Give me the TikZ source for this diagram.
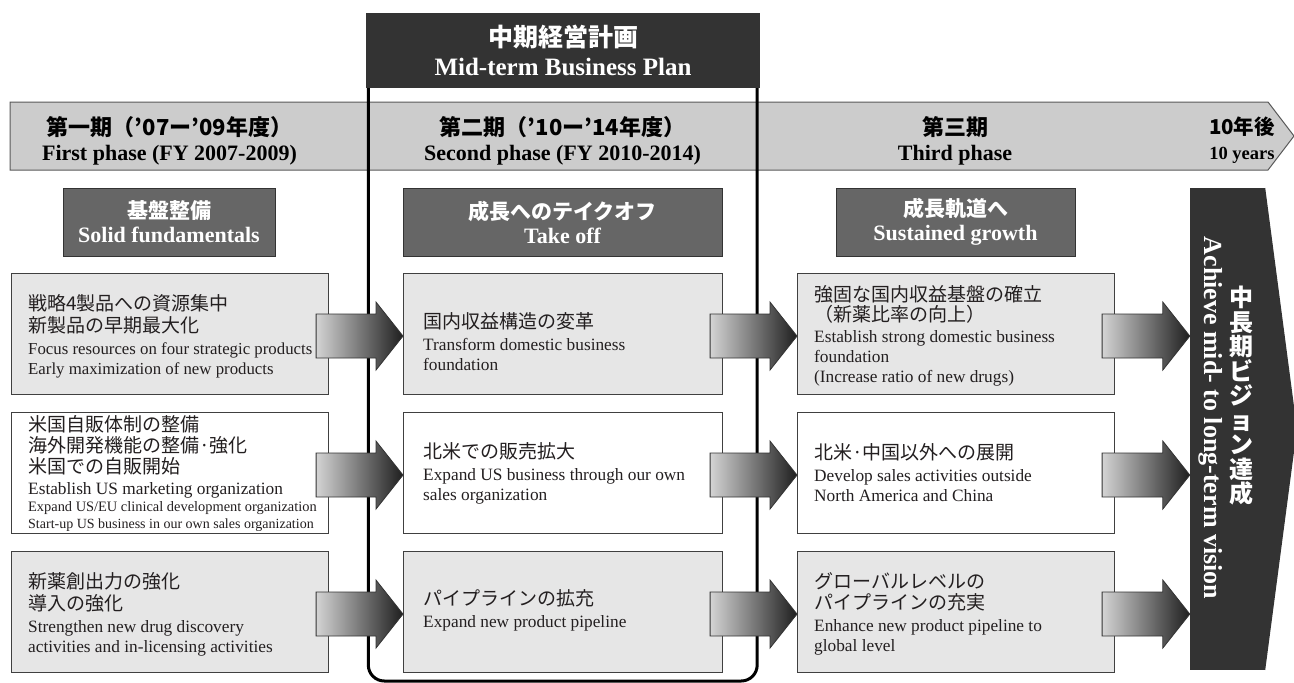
\documentclass[tikz,border=0pt]{standalone}
\usepackage{fontspec}
\setmainfont{Liberation Serif}
\newfontfamily\jp{Noto Sans CJK JP}
\usetikzlibrary{calc}
\definecolor{bannerfill}{HTML}{CCCCCC}
\definecolor{lightfill}{HTML}{E6E6E6}
\definecolor{darkfill}{HTML}{666666}
\definecolor{headfill}{HTML}{333333}
\definecolor{edge}{HTML}{404040}
\definecolor{txt}{HTML}{231F20}
\newcommand\J[1]{{\jp\fontsize{19}{22}\selectfont #1}}
\newcommand\blockarrow[2]{%
  \shade[blockarr] let \p1=(#1.east), \p2=(#2.west) in
    (\x1-13pt,\y1-24pt) -- (\x2-27pt,\y1-24pt) -- (\x2-27pt,\y1-36pt) -- (\x2,\y1-2pt)
    -- (\x2-27pt,\y1+32pt) -- (\x2-27pt,\y1+20pt) -- (\x1-13pt,\y1+20pt) -- cycle;}
\begin{document}
\begin{tikzpicture}[x=1pt,y=-1pt,
  rowbox/.style={draw=edge, line width=1.1pt, minimum height=121pt, minimum width=#1,
    inner sep=0pt, anchor=north west},
  rowtext/.style={anchor=west, align=left, inner sep=0pt, text=txt,
    font=\fontsize{17.3}{20}\selectfont},
  darkbox/.style={fill=darkfill, draw=headfill, line width=1pt, text=white, align=center,
    minimum height=68pt, inner sep=0pt, font=\bfseries\fontsize{22}{24}\selectfont},
  phase/.style={align=center, text=black, font=\bfseries\fontsize{22}{25}\selectfont},
  blockarr/.style={left color=black!17, right color=black!88, draw=black!80, line width=0.8pt},
  frameline/.style={line width=3pt, rounded corners=16pt}]
\useasboundingbox (0,0) rectangle (1294,683);

% phase banner
\path[fill=bannerfill, draw=black!65, line width=1pt]
  (10,102) -- (1268,102) -- (1294,136) -- (1268,170) -- (10,170) -- cycle;

% mid-term plan header and frame
\node[fill=headfill, minimum width=394pt, minimum height=75pt, inner sep=0pt, text=white,
  align=center, font=\bfseries\fontsize{25}{29}\selectfont] (plan) at (563,50.5)
  {{\jp\fontsize{25}{29}\selectfont 中期経営計画}\\Mid-term Business Plan};
\draw[frameline] ($(plan.south west)+(2.5,0)$) |- (563,681) -| ($(plan.south east)+(-3,0)$);

% phase labels
\node[phase] (p1) at (169.5,140.5) {{\jp\fontsize{22}{25}\selectfont 第一期（’07ー’09年度）}\\First phase (FY 2007-2009)};
\node[phase] (p2) at (562.5,140.5) {{\jp\fontsize{22}{25}\selectfont 第二期（’10ー’14年度）}\\Second phase (FY 2010-2014)};
\node[phase] (p3) at (955,140.5) {{\jp\fontsize{22}{25}\selectfont 第三期}\\Third phase};
\node[phase, font=\bfseries\fontsize{18.5}{25}\selectfont] (p4) at (1242,140.5) {{\jp\fontsize{20.5}{25}\selectfont 10年後}\\10 years};

% stage boxes
\node[darkbox, minimum width=212pt] (d1) at (169,222) {{\jp\fontsize{21}{24}\selectfont 基盤整備}\\Solid fundamentals};
\node[darkbox, minimum width=319pt] (d2) at (562.5,222) {{\jp\fontsize{21}{24}\selectfont 成長へのテイクオフ}\\Take off};
\node[darkbox, minimum width=239pt] (d3) at (955.5,222) {{\jp\fontsize{21}{24}\selectfont 成長軌道へ}\\Sustained growth};

% column 1
\node[rowbox=317pt, fill=lightfill] (b11) at (11,273) {};
\node[rowtext, font=\fontsize{16.8}{20}\selectfont] (t11) at ($(b11.west)+(17,2)$)
  {\J{戦略4製品への資源集中}\\[2pt]\J{新製品の早期最大化}\\[2pt]Focus resources on four strategic products\\Early maximization of new products};
\node[rowbox=317pt, fill=white] (b12) at (11,412) {};
\node[rowtext] (t12) at ($(b12.west)+(17,0)$)
  {\J{米国自販体制の整備}\\[1pt]\J{海外開発機能の整備·強化}\\[1pt]\J{米国での自販開始}\\[1pt]Establish US marketing organization\\[-3pt]{\fontsize{14.4}{17}\selectfont Expand US/EU clinical development organization}\\[-3pt]{\fontsize{14}{17}\selectfont Start-up US business in our own sales organization}};
\node[rowbox=317pt, fill=lightfill] (b13) at (11,551) {};
\node[rowtext] (t13) at ($(b13.west)+(17,2)$)
  {\J{新薬創出力の強化}\\[2pt]\J{導入の強化}\\[2pt]Strengthen new drug discovery\\activities and in-licensing activities};

% column 2
\node[rowbox=319pt, fill=lightfill] (b21) at (403,273) {};
\node[rowtext] (t21) at ($(b21.west)+(20,8)$)
  {\J{国内収益構造の変革}\\[2pt]Transform domestic business\\foundation};
\node[rowbox=319pt, fill=white] (b22) at (403,412) {};
\node[rowtext] (t22) at ($(b22.west)+(20,0)$)
  {\J{北米での販売拡大}\\[2pt]Expand US business through our own\\sales organization};
\node[rowbox=319pt, fill=lightfill] (b23) at (403,551) {};
\node[rowtext] (t23) at ($(b23.west)+(20,-2)$)
  {\J{パイプラインの拡充}\\[2pt]Expand new product pipeline};

% column 3
\node[rowbox=317pt, fill=lightfill] (b31) at (797,273) {};
\node[rowtext] (t31) at ($(b31.west)+(17,2)$)
  {\J{強固な国内収益基盤の確立}\\[0pt]\J{（新薬比率の向上）}\\[1pt]Establish strong domestic business\\foundation\\(Increase ratio of new drugs)};
\node[rowbox=317pt, fill=white] (b32) at (797,412) {};
\node[rowtext] (t32) at ($(b32.west)+(17,0)$)
  {\J{北米·中国以外への展開}\\[2pt]Develop sales activities outside\\North America and China};
\node[rowbox=317pt, fill=lightfill] (b33) at (797,551) {};
\node[rowtext] (t33) at ($(b33.west)+(17,2)$)
  {\J{グローバルレベルの}\\[1pt]\J{パイプラインの充実}\\[2pt]Enhance new product pipeline to\\global level};

% vision banner
\node[fill=headfill, minimum width=75pt, minimum height=482pt, inner sep=0pt] (vis) at (1227.5,429) {};
\fill[headfill] (vis.north east) -- (1297,429) -- (vis.south east) -- cycle;
\node[text=white, align=center, inner sep=0pt, font=\jp\bfseries\fontsize{24}{24.5}\selectfont] (visjp) at (1241,396)
  {中\\長\\期\\ビ\\ジ\\ョ\\ン\\達\\成};
\node[rotate=-90, text=white, inner sep=0pt, font=\bfseries\fontsize{26}{26}\selectfont] (visen) at (1211,418)
  {Achieve mid- to long-term vision};

% block arrows
\blockarrow{b11}{b21}
\blockarrow{b12}{b22}
\blockarrow{b13}{b23}
\blockarrow{b21}{b31}
\blockarrow{b22}{b32}
\blockarrow{b23}{b33}
\blockarrow{b31}{vis}
\blockarrow{b32}{vis}
\blockarrow{b33}{vis}
\end{tikzpicture}
\end{document}
